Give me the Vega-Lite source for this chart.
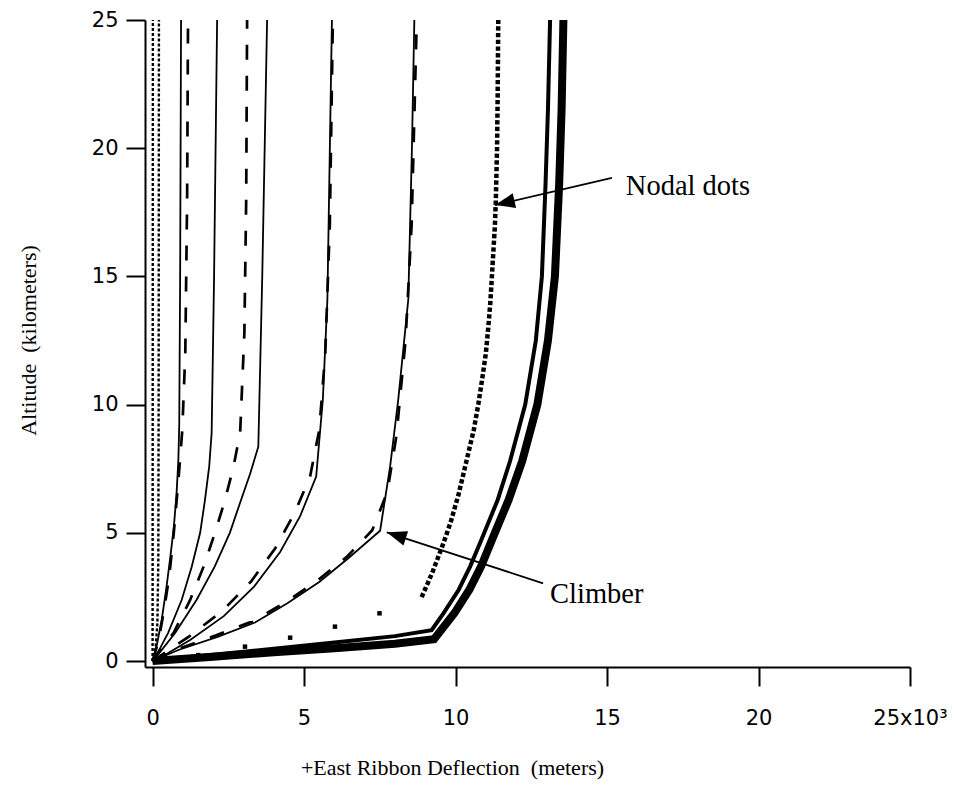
{
  "$schema": "https://vega.github.io/schema/vega-lite/v6.json",
  "width": 765,
  "height": 647,
  "autosize": {"type": "none"},
  "padding": {"left": 145, "top": 20, "right": 48, "bottom": 132},
  "background": "white",
  "datasets": {
    "curves": [
      {"s": "Z1", "x": 0, "y": 0}, {"s": "Z1", "x": 0.01, "y": 25},
      {"s": "Z2", "x": 0, "y": 0}, {"s": "Z2", "x": 0.1, "y": 0.5}, {"s": "Z2", "x": 0.16, "y": 1.5}, {"s": "Z2", "x": 0.19, "y": 4}, {"s": "Z2", "x": 0.2, "y": 10}, {"s": "Z2", "x": 0.21, "y": 25},

      {"s": "S1", "x": 0, "y": 0}, {"s": "S1", "x": 0.12, "y": 0.5}, {"s": "S1", "x": 0.3, "y": 1.6}, {"s": "S1", "x": 0.45, "y": 2.8}, {"s": "S1", "x": 0.58, "y": 4.0}, {"s": "S1", "x": 0.7, "y": 5.2}, {"s": "S1", "x": 0.79, "y": 6.5}, {"s": "S1", "x": 0.85, "y": 7.8}, {"s": "S1", "x": 0.88, "y": 9.2}, {"s": "S1", "x": 0.91, "y": 15}, {"s": "S1", "x": 0.94, "y": 25},
      {"s": "S2", "x": 0, "y": 0}, {"s": "S2", "x": 0.25, "y": 0.5}, {"s": "S2", "x": 0.51, "y": 1.09}, {"s": "S2", "x": 0.96, "y": 2.38}, {"s": "S2", "x": 1.29, "y": 3.67}, {"s": "S2", "x": 1.57, "y": 5.0}, {"s": "S2", "x": 1.73, "y": 6.28}, {"s": "S2", "x": 1.87, "y": 7.6}, {"s": "S2", "x": 1.95, "y": 8.9}, {"s": "S2", "x": 2.03, "y": 15}, {"s": "S2", "x": 2.13, "y": 25},
      {"s": "S3", "x": 0, "y": 0}, {"s": "S3", "x": 0.35, "y": 0.5}, {"s": "S3", "x": 0.75, "y": 1.1}, {"s": "S3", "x": 1.45, "y": 2.38}, {"s": "S3", "x": 2.05, "y": 3.68}, {"s": "S3", "x": 2.55, "y": 5.0}, {"s": "S3", "x": 2.92, "y": 6.28}, {"s": "S3", "x": 3.22, "y": 7.3}, {"s": "S3", "x": 3.49, "y": 8.36}, {"s": "S3", "x": 3.62, "y": 15}, {"s": "S3", "x": 3.78, "y": 25},
      {"s": "S4", "x": 0, "y": 0}, {"s": "S4", "x": 0.5, "y": 0.3}, {"s": "S4", "x": 1.24, "y": 0.82}, {"s": "S4", "x": 2.35, "y": 1.75}, {"s": "S4", "x": 3.35, "y": 2.9}, {"s": "S4", "x": 4.21, "y": 4.25}, {"s": "S4", "x": 4.87, "y": 5.65}, {"s": "S4", "x": 5.4, "y": 7.19}, {"s": "S4", "x": 5.62, "y": 10.2}, {"s": "S4", "x": 5.77, "y": 14.1}, {"s": "S4", "x": 5.92, "y": 25},
      {"s": "S5", "x": 0, "y": 0}, {"s": "S5", "x": 0.85, "y": 0.43}, {"s": "S5", "x": 2.17, "y": 0.95}, {"s": "S5", "x": 3.38, "y": 1.5}, {"s": "S5", "x": 4.45, "y": 2.25}, {"s": "S5", "x": 5.5, "y": 3.08}, {"s": "S5", "x": 6.45, "y": 4.0}, {"s": "S5", "x": 7.51, "y": 5.08}, {"s": "S5", "x": 7.84, "y": 7.58}, {"s": "S5", "x": 8.11, "y": 10.2}, {"s": "S5", "x": 8.44, "y": 14.1}, {"s": "S5", "x": 8.56, "y": 20}, {"s": "S5", "x": 8.64, "y": 25},

      {"s": "A1", "x": 15.16, "y": 18.84}, {"s": "A1", "x": 11.3, "y": 17.78},
      {"s": "A2", "x": 12.89, "y": 3.03}, {"s": "A2", "x": 7.73, "y": 5.02},

      {"s": "D1", "x": 0, "y": 0}, {"s": "D1", "x": 0.2, "y": 0.8}, {"s": "D1", "x": 0.38, "y": 2.0}, {"s": "D1", "x": 0.55, "y": 3.3}, {"s": "D1", "x": 0.7, "y": 5.0}, {"s": "D1", "x": 0.85, "y": 7.0}, {"s": "D1", "x": 0.98, "y": 9.0}, {"s": "D1", "x": 1.08, "y": 12}, {"s": "D1", "x": 1.14, "y": 18}, {"s": "D1", "x": 1.17, "y": 25},
      {"s": "D2", "x": 0, "y": 0}, {"s": "D2", "x": 0.69, "y": 1.09}, {"s": "D2", "x": 1.24, "y": 2.38}, {"s": "D2", "x": 1.68, "y": 3.67}, {"s": "D2", "x": 2.06, "y": 5.0}, {"s": "D2", "x": 2.39, "y": 6.28}, {"s": "D2", "x": 2.67, "y": 7.57}, {"s": "D2", "x": 2.89, "y": 8.9}, {"s": "D2", "x": 3.03, "y": 12.8}, {"s": "D2", "x": 3.09, "y": 18}, {"s": "D2", "x": 3.12, "y": 25},
      {"s": "D3", "x": 0, "y": 0}, {"s": "D3", "x": 1.2, "y": 0.95}, {"s": "D3", "x": 2.3, "y": 1.95}, {"s": "D3", "x": 3.25, "y": 3.1}, {"s": "D3", "x": 4.05, "y": 4.4}, {"s": "D3", "x": 4.7, "y": 5.8}, {"s": "D3", "x": 5.2, "y": 7.2}, {"s": "D3", "x": 5.5, "y": 9.0}, {"s": "D3", "x": 5.7, "y": 12}, {"s": "D3", "x": 5.85, "y": 17}, {"s": "D3", "x": 5.95, "y": 25},
      {"s": "D4", "x": 0, "y": 0}, {"s": "D4", "x": 0.8, "y": 0.45}, {"s": "D4", "x": 2.1, "y": 1.0}, {"s": "D4", "x": 3.3, "y": 1.55}, {"s": "D4", "x": 4.4, "y": 2.3}, {"s": "D4", "x": 5.45, "y": 3.15}, {"s": "D4", "x": 6.4, "y": 4.05}, {"s": "D4", "x": 7.25, "y": 5.1}, {"s": "D4", "x": 7.75, "y": 6.6}, {"s": "D4", "x": 8.05, "y": 8.8}, {"s": "D4", "x": 8.35, "y": 12.5}, {"s": "D4", "x": 8.55, "y": 17}, {"s": "D4", "x": 8.72, "y": 25},

      {"s": "M", "x": 0, "y": 0}, {"s": "M", "x": 2, "y": 0.24}, {"s": "M", "x": 4, "y": 0.48}, {"s": "M", "x": 6, "y": 0.72}, {"s": "M", "x": 8, "y": 0.97}, {"s": "M", "x": 9.21, "y": 1.2}, {"s": "M", "x": 9.6, "y": 1.86}, {"s": "M", "x": 10.1, "y": 2.77}, {"s": "M", "x": 10.48, "y": 3.68}, {"s": "M", "x": 10.85, "y": 4.72}, {"s": "M", "x": 11.39, "y": 6.28}, {"s": "M", "x": 11.8, "y": 7.8}, {"s": "M", "x": 12.3, "y": 10}, {"s": "M", "x": 12.65, "y": 12.5}, {"s": "M", "x": 12.85, "y": 15}, {"s": "M", "x": 12.97, "y": 18.6}, {"s": "M", "x": 13.05, "y": 21.5}, {"s": "M", "x": 13.12, "y": 25},

      {"s": "T", "x": 0, "y": 0}, {"s": "T", "x": 2, "y": 0.17}, {"s": "T", "x": 4, "y": 0.34}, {"s": "T", "x": 6, "y": 0.5}, {"s": "T", "x": 8, "y": 0.67}, {"s": "T", "x": 9.29, "y": 0.85}, {"s": "T", "x": 9.96, "y": 1.86}, {"s": "T", "x": 10.45, "y": 2.77}, {"s": "T", "x": 10.84, "y": 3.68}, {"s": "T", "x": 11.2, "y": 4.72}, {"s": "T", "x": 11.75, "y": 6.28}, {"s": "T", "x": 12.2, "y": 7.8}, {"s": "T", "x": 12.7, "y": 10}, {"s": "T", "x": 13.05, "y": 12.5}, {"s": "T", "x": 13.28, "y": 15}, {"s": "T", "x": 13.42, "y": 18.6}, {"s": "T", "x": 13.5, "y": 21.5}, {"s": "T", "x": 13.56, "y": 25},

      {"s": "N", "x": 8.88, "y": 2.49}, {"s": "N", "x": 9.07, "y": 3.0}, {"s": "N", "x": 9.25, "y": 3.5}, {"s": "N", "x": 9.41, "y": 4.0}, {"s": "N", "x": 9.57, "y": 4.5}, {"s": "N", "x": 9.72, "y": 5.0}, {"s": "N", "x": 9.86, "y": 5.5}, {"s": "N", "x": 9.98, "y": 6.0}, {"s": "N", "x": 10.1, "y": 6.5}, {"s": "N", "x": 10.2, "y": 7.0}, {"s": "N", "x": 10.4, "y": 8.0}, {"s": "N", "x": 10.6, "y": 9.0}, {"s": "N", "x": 10.75, "y": 10}, {"s": "N", "x": 10.88, "y": 11}, {"s": "N", "x": 11.0, "y": 12}, {"s": "N", "x": 11.08, "y": 13}, {"s": "N", "x": 11.15, "y": 14}, {"s": "N", "x": 11.2, "y": 15}, {"s": "N", "x": 11.25, "y": 16}, {"s": "N", "x": 11.3, "y": 17}, {"s": "N", "x": 11.33, "y": 18}, {"s": "N", "x": 11.37, "y": 20}, {"s": "N", "x": 11.39, "y": 22}, {"s": "N", "x": 11.41, "y": 25}
    ],
    "nodes": [
      {"x": 1.51, "y": 0.23}, {"x": 3.05, "y": 0.56}, {"x": 4.54, "y": 0.91},
      {"x": 6.02, "y": 1.34}, {"x": 7.49, "y": 1.86}
    ],
    "tips": [
      {"label": "Nodal dots", "x": 11.3, "y": 17.78},
      {"label": "Climber", "x": 7.73, "y": 5.02}
    ],
    "notes": [
      {"text": "Nodal dots", "x": 15.62, "y": 18.53},
      {"text": "Climber", "x": 13.12, "y": 2.6}
    ]
  },
  "encoding": {
    "x": {
      "field": "x",
      "type": "quantitative",
      "scale": {"domain": [-0.25, 25], "nice": false, "zero": false},
      "axis": {
        "title": "+East Ribbon Deflection \u00a0(meters)",
        "values": [0, 5, 10, 15, 20, 25],
        "labelExpr": "datum.value === 25 ? '25x10³' : datum.label",
        "labelFlush": false,
        "labelPadding": 21,
        "titleX": 307,
        "titleY": 100,
        "titleBaseline": "middle",
        "titleAlign": "center"
      }
    },
    "y": {
      "field": "y",
      "type": "quantitative",
      "scale": {"domain": [-0.234, 25], "nice": false, "zero": false},
      "axis": {
        "title": "Altitude \u00a0(kilometers)",
        "values": [0, 5, 10, 15, 20, 25],
        "labelFlush": false,
        "labelPadding": 8,
        "titleX": -117,
        "titleY": 320,
        "titleBaseline": "middle",
        "titleAlign": "center",
        "titleAngle": -90
      }
    }
  },
  "layer": [
    {
      "data": {"name": "curves"},
      "transform": [{"filter": {"field": "s", "oneOf": ["Z1", "Z2"]}}],
      "mark": {"type": "line", "color": "black", "strokeWidth": 2.4, "strokeDash": [3, 2], "strokeCap": "butt"},
      "encoding": {"detail": {"field": "s"}, "order": {"field": "y", "type": "quantitative"}}
    },
    {
      "data": {"name": "curves"},
      "transform": [{"filter": {"field": "s", "oneOf": ["D1", "D2", "D3", "D4"]}}],
      "mark": {"type": "line", "color": "black", "strokeWidth": 2.7, "strokeDash": [15, 16], "strokeCap": "butt"},
      "encoding": {"detail": {"field": "s"}, "order": {"field": "y", "type": "quantitative"}}
    },
    {
      "data": {"name": "curves"},
      "transform": [{"filter": {"field": "s", "oneOf": ["S1", "S2", "S3", "S4", "S5", "A1", "A2"]}}],
      "mark": {"type": "line", "color": "black", "strokeWidth": 1.8},
      "encoding": {"detail": {"field": "s"}, "order": {"field": "y", "type": "quantitative"}}
    },
    {
      "data": {"name": "curves"},
      "transform": [{"filter": {"field": "s", "equal": "M"}}],
      "mark": {"type": "line", "color": "black", "strokeWidth": 4},
      "encoding": {"order": {"field": "y", "type": "quantitative"}}
    },
    {
      "data": {"name": "curves"},
      "transform": [{"filter": {"field": "s", "equal": "T"}}],
      "mark": {"type": "line", "color": "black", "strokeWidth": 8},
      "encoding": {"order": {"field": "y", "type": "quantitative"}}
    },
    {
      "data": {"name": "curves"},
      "transform": [{"filter": {"field": "s", "equal": "N"}}],
      "mark": {"type": "line", "color": "black", "strokeWidth": 4.5, "strokeDash": [4.3, 2.4], "strokeCap": "butt"},
      "encoding": {"order": {"field": "y", "type": "quantitative"}}
    },
    {
      "data": {"name": "nodes"},
      "mark": {"type": "square", "color": "black", "size": 20, "opacity": 1}
    },
    {
      "data": {"name": "tips"},
      "transform": [{"filter": {"field": "label", "equal": "Nodal dots"}}],
      "mark": {"type": "point", "shape": "M0,0L2,-0.75L2,0.75Z", "filled": true, "color": "black", "opacity": 1, "size": 400, "angle": -13}
    },
    {
      "data": {"name": "tips"},
      "transform": [{"filter": {"field": "label", "equal": "Climber"}}],
      "mark": {"type": "point", "shape": "M0,0L2,-0.75L2,0.75Z", "filled": true, "color": "black", "opacity": 1, "size": 400, "angle": 18}
    },
    {
      "data": {"name": "notes"},
      "mark": {"type": "text", "align": "left", "baseline": "middle", "font": "Liberation Serif", "fontSize": 28.5, "color": "black"},
      "encoding": {"text": {"field": "text"}}
    }
  ],
  "config": {
    "view": {"stroke": null},
    "axis": {
      "grid": false,
      "domainColor": "black",
      "domainWidth": 2,
      "tickColor": "black",
      "tickWidth": 2,
      "tickSize": 19,
      "labelFont": "DejaVu Sans",
      "labelFontSize": 21,
      "labelColor": "black",
      "titleFont": "Liberation Serif",
      "titleFontSize": 22,
      "titleFontWeight": "normal",
      "titleColor": "black"
    }
  }
}
